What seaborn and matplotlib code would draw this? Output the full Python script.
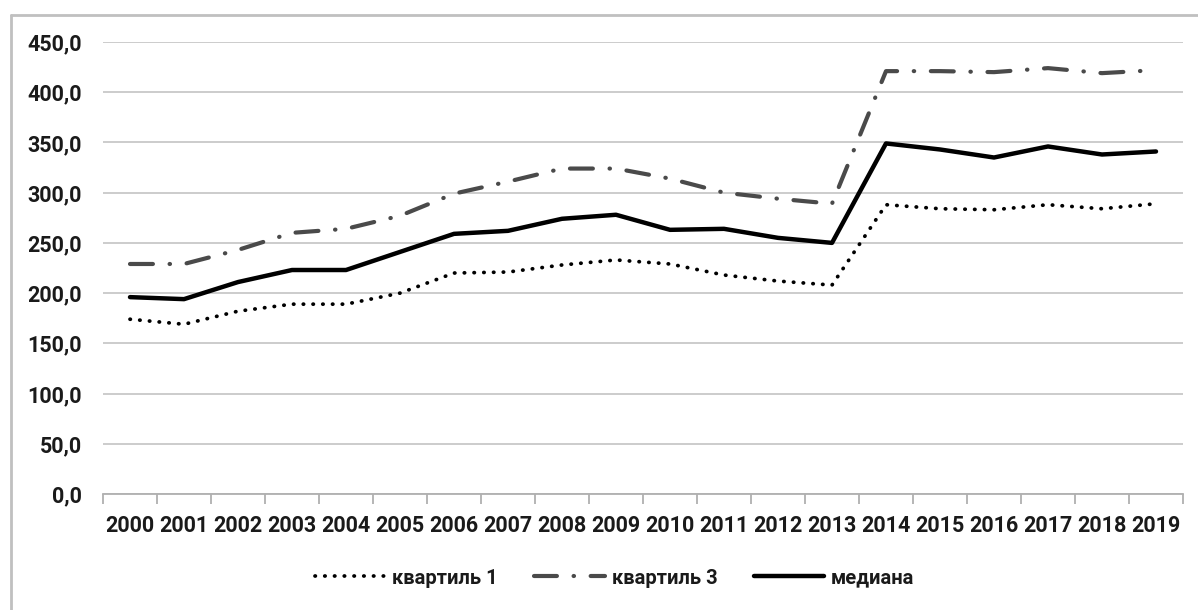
import matplotlib
matplotlib.use("Agg")
import matplotlib.pyplot as plt
import seaborn as sns
import pandas as pd
from matplotlib.lines import Line2D
from matplotlib.ticker import FuncFormatter, MultipleLocator

# Данные
years = [str(y) for y in range(2000, 2020)]
quartile1 = [174, 169, 182, 189, 189, 200, 220, 221, 228, 233,
             229, 218, 212, 208, 288, 284, 283, 288, 284, 289]
quartile3 = [229, 229, 243, 260, 264, 277, 299, 311, 324, 324,
             314, 300, 294, 289, 421, 421, 420, 424, 419, 422]
median = [196, 194, 211, 223, 223, 241, 259, 262, 274, 278,
          263, 264, 255, 250, 349, 343, 335, 346, 338, 341]
series_names = ["квартиль 1", "квартиль 3", "медиана"]


def main():
    sns.set_style("white")
    plt.rcParams["font.family"] = ["Roboto", "DejaVu Sans"]

    fig = plt.figure(figsize=(11.98, 6.10), dpi=100)
    ax = fig.add_axes([103 / 1198, 116 / 610, 1080 / 1198, 452 / 610])

    df = pd.DataFrame({"pos": range(len(years)), "q1": quartile1,
                       "q3": quartile3, "med": median})

    sns.lineplot(data=df, x="pos", y="q1", ax=ax, color="black", linewidth=2.7,
                 linestyle=(0, (0.1, 2.5)), dash_capstyle="round",
                 label=series_names[0])
    sns.lineplot(data=df, x="pos", y="q3", ax=ax, color="#4a4a4a", linewidth=3.0,
                 linestyle=(0, (5.5, 4, 0.1, 4)), dash_capstyle="round",
                 label=series_names[1])
    sns.lineplot(data=df, x="pos", y="med", ax=ax, color="black", linewidth=3.2,
                 label=series_names[2])

    # Оси
    ax.set_xlim(-0.5, len(years) - 0.5)
    ax.set_ylim(0, 450)
    ax.yaxis.set_major_locator(MultipleLocator(50))
    ax.yaxis.set_major_formatter(FuncFormatter(lambda v, p: f"{v:.1f}".replace(".", ",")))
    ax.grid(axis="y", color="#c8c8c8", linewidth=1.3)
    ax.set_axisbelow(True)

    ax.set_xticks(range(len(years)))
    ax.set_xticklabels(years)
    ax.set_xticks([i - 0.5 for i in range(len(years) + 1)], minor=True)
    ax.tick_params(axis="x", which="major", length=0, pad=15)
    ax.tick_params(axis="x", which="minor", length=7, width=1.3, color="#b0b0b0",
                   direction="out", bottom=True)
    ax.tick_params(axis="y", length=0, pad=15)
    for lbl in ax.get_xticklabels() + ax.get_yticklabels():
        lbl.set_fontsize(15.5)
        lbl.set_fontweight("bold")
        lbl.set_color("#1a1a1a")
    ax.set_xlabel("")
    ax.set_ylabel("")

    for side in ["left", "right", "top"]:
        ax.spines[side].set_visible(False)
    ax.spines["bottom"].set_color("#b0b0b0")
    ax.spines["bottom"].set_linewidth(1.3)

    # Легенда снизу
    ax.get_legend().remove()
    handles, labels = ax.get_legend_handles_labels()
    leg = fig.legend(handles, labels, loc="center", bbox_to_anchor=(0.513, 1 - 578 / 610),
                     ncol=3, frameon=False, handlelength=3.5, columnspacing=1.8,
                     handletextpad=0.35, prop={"size": 14.5, "weight": "bold"})
    for t in leg.get_texts():
        t.set_color("#1a1a1a")

    # Рамка области диаграммы
    fig.add_artist(Line2D([10.5 / 1198, 10.5 / 1198], [0, 1 - 15 / 610],
                          transform=fig.transFigure, color="#c0c0c0", linewidth=2))
    fig.add_artist(Line2D([10.5 / 1198, 1], [1 - 15 / 610, 1 - 15 / 610],
                          transform=fig.transFigure, color="#c0c0c0", linewidth=2))

    fig.savefig("out.png", dpi=100)
    plt.close(fig)


if __name__ == "__main__":
    main()
